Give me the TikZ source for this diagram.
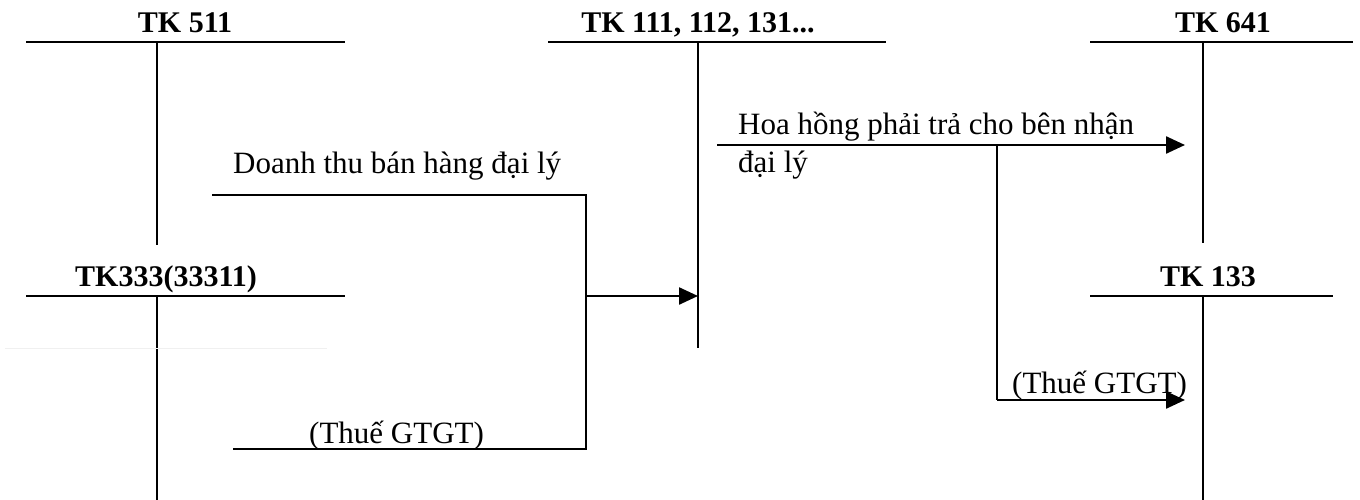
\documentclass[tikz,border=0pt]{standalone}
\usepackage{fontspec}
\setmainfont{Liberation Serif}
\usetikzlibrary{arrows.meta}
\begin{document}
\begin{tikzpicture}[x=1pt,y=-1pt,
  acc/.style={line width=2.4pt},
  conn/.style={line width=2.2pt},
  arr/.style={line width=2.4pt,-{Triangle[length=19pt,width=17pt]}},
  hd/.style={font=\fontsize{30}{34}\selectfont\bfseries,inner sep=0pt,anchor=base},
  lbl/.style={font=\fontsize{31}{35}\selectfont,inner sep=0pt,anchor=base west}]
\useasboundingbox (0,0) rectangle (1360,500);
% T-accounts
\node[hd] (h511) at (185,33) {TK 511};
\draw[acc] (26,42) -- (345,42);
\draw[acc] (157,42) coordinate (t511) -- (157,245) coordinate (b511);
\node[hd] (h111) at (698,33) {TK 111, 112, 131...};
\draw[acc] (548,42) -- (886,42);
\draw[acc] (698,42) coordinate (t111) -- (698,348) coordinate (b111);
\node[hd] (h641) at (1223,33) {TK 641};
\draw[acc] (1090,42) -- (1353,42);
\draw[acc] (1203,42) coordinate (t641) -- (1203,243) coordinate (b641);
\node[hd] (h333) at (166,286) {TK333(33311)};
\draw[acc] (26,296) -- (345,296);
\draw[acc] (157,296) coordinate (t333) -- (157,500) coordinate (b333);
\node[hd] (h133) at (1208,286) {TK 133};
\draw[acc] (1090,296) -- (1333,296);
\draw[acc] (1203,296) coordinate (t133) -- (1203,500) coordinate (b133);
\draw[line width=1pt,black!6] (5,348) -- (327,348);
% revenue entries
\coordinate (d1) at (212,195);
\coordinate (d2) at (586,195);
\coordinate (g1) at (233,449);
\coordinate (g2) at (586,449);
\coordinate (j) at (586,296);
\coordinate (j2) at (698,296);
\draw[conn] (d1) -- (d2) -- (g2) -- (g1);
\draw[arr] (j) -- (j2);
\node[lbl] (ldt) at (233,174) {Doanh thu bán hàng đại lý};
\node[lbl] (lg1) at (309,443) {(Thuế GTGT)};
% commission
\coordinate (c1) at (717,145);
\coordinate (c2) at (1185,145);
\coordinate (br) at (997,145);
\coordinate (br2) at (997,400);
\coordinate (c3) at (1185,400);
\draw[arr] (c1) -- (c2);
\draw[conn] (br) -- (br2);
\draw[arr] (br2) -- (c3);
\node[lbl] (lhh) at (738,135) {Hoa hồng phải trả cho bên nhận};
\node[lbl] (ldl) at (738,172) {đại lý};
\node[lbl] (lg2) at (1012,393) {(Thuế GTGT)};
\end{tikzpicture}
\end{document}
